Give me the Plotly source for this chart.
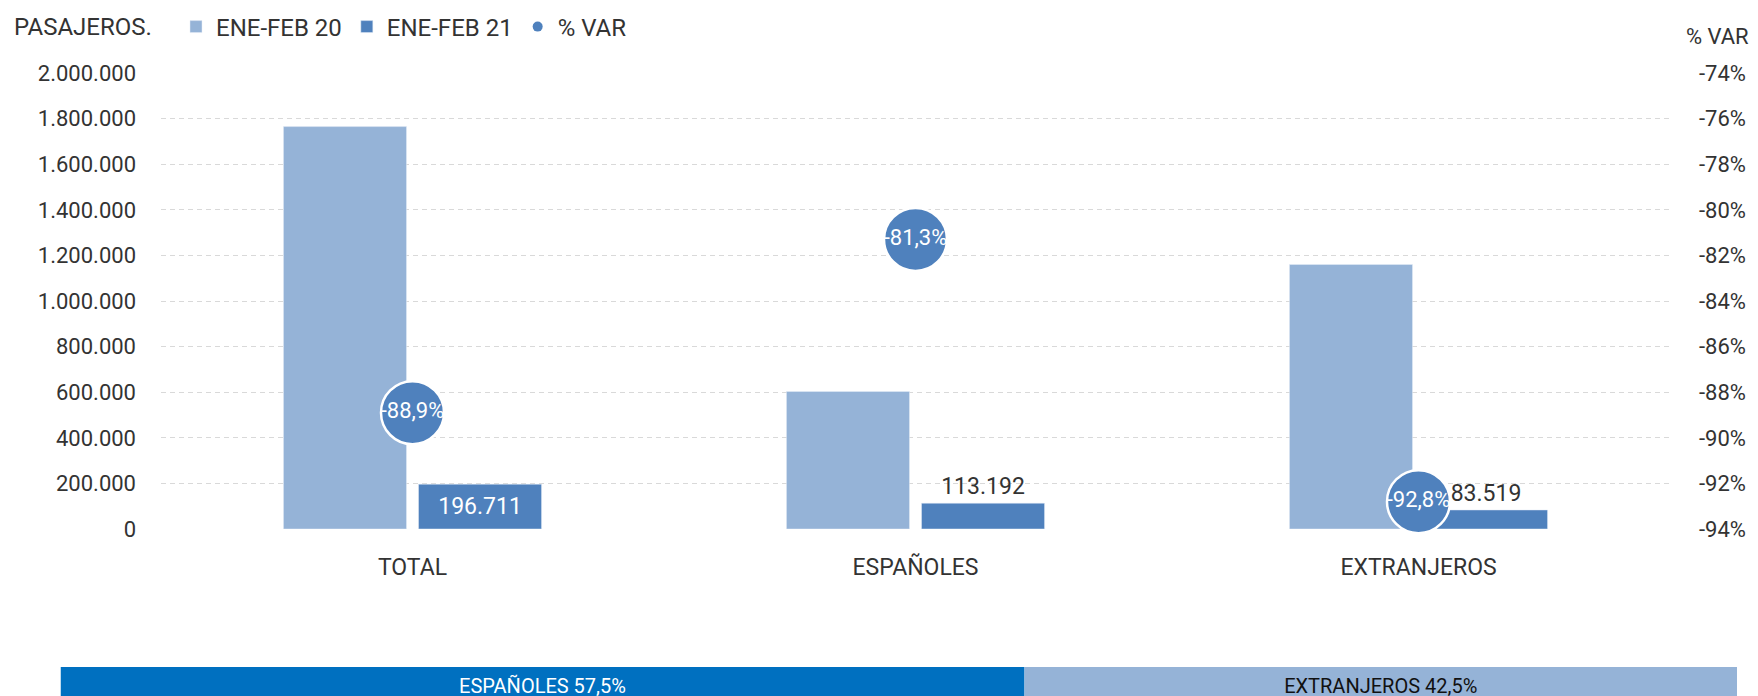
import plotly.graph_objects as go

categories = ["TOTAL", "ESPAÑOLES", "EXTRANJEROS"]
feb20 = [1765000, 603000, 1160000]
feb21 = [196711, 113192, 83519]
var_pct = [-88.9, -81.3, -92.8]
share_labels = ["ESPAÑOLES", "EXTRANJEROS"]
share_vals = [57.5, 42.5]
right_ticks = [-74, -76, -78, -80, -82, -84, -86, -88, -90, -92, -94]

C_LIGHT = "#95B3D7"
C_DARK = "#4F81BD"
C_BLUE = "#0070C0"
TXT = "#333333"
FONT = "Roboto"
W, H = 1758, 696
OFF = 8  # page body offset


def px(x):
    return (x - OFF) / W


def py(y):
    return 1 - (y - OFF) / H


def es_num(v):
    return f"{v:,.0f}".replace(",", ".")


fig = go.Figure()
fig.add_trace(go.Bar(x=categories, y=feb20, name="ENE-FEB 20", marker_color=C_LIGHT,
                     hoverinfo="skip"))
fig.add_trace(go.Bar(x=categories, y=feb21, name="ENE-FEB 21", marker_color=C_DARK,
                     text=[es_num(v) for v in feb21],
                     textposition=["inside", "outside", "outside"],
                     insidetextanchor="middle",
                     insidetextfont=dict(color="white", size=23, family=FONT),
                     outsidetextfont=dict(color=TXT, size=23, family=FONT),
                     textangle=0, cliponaxis=False, constraintext="none"))
fig.add_trace(go.Scatter(x=categories, y=var_pct, yaxis="y2", mode="markers+text",
                         name="% VAR", showlegend=False,
                         marker=dict(size=63, color=C_DARK, line=dict(color="white", width=2.5)),
                         text=[f"{v:.1f}%".replace(".", ",") for v in var_pct],
                         textposition="middle center",
                         textfont=dict(color="white", size=22, family=FONT),
                         cliponaxis=False))
# legend proxy for % VAR
fig.add_trace(go.Scatter(x=[None], y=[None], yaxis="y2", mode="markers", name="% VAR",
                         marker=dict(size=10, color=C_DARK)))

# bottom share strip
fig.add_trace(go.Bar(y=["s", "s"], x=share_vals,
                     base=[0, share_vals[0]], orientation="h",
                     xaxis="x3", yaxis="y3", width=1, showlegend=False,
                     marker=dict(color=[C_BLUE, C_LIGHT], line=dict(width=0)),
                     text=[f"{l} {v:.1f}%".replace(".", ",") for l, v in zip(share_labels, share_vals)],
                     textposition="inside", insidetextanchor="middle",
                     textfont=dict(color=["white", "#111111"], size=20, family=FONT),
                     textangle=0, constraintext="none"))

fig.update_layout(
    width=W, height=H,
    margin=dict(l=0, r=0, t=0, b=0, autoexpand=False),
    paper_bgcolor="white", plot_bgcolor="white",
    separators=",.",
    font=dict(family=FONT, size=22, color=TXT),
    barmode="group", bargap=0.463, bargroupgap=0.089,
    showlegend=True,
    legend=dict(orientation="h", x=px(176), xanchor="left", y=py(27), yanchor="middle",
                font=dict(size=24, color=TXT, family=FONT), bgcolor="rgba(0,0,0,0)",
                traceorder="normal"),
    xaxis=dict(domain=[px(161), px(1670)], showgrid=False, zeroline=False, showline=False,
               ticks="", ticklabelstandoff=22, automargin=False,
               tickfont=dict(size=23, color=TXT)),
    yaxis=dict(domain=[py(529), py(73)], range=[0, 2000000], dtick=200000, tickformat=",",
               showgrid=True, gridcolor="#D9D9D9", griddash="5px,4px", gridwidth=1,
               zeroline=False, showline=False, ticks="", ticklabelstandoff=24, automargin=False,
               tickfont=dict(size=22, color=TXT)),
    yaxis2=dict(overlaying="y", side="right", anchor="x", range=[-94, -74],
                tickvals=right_ticks, ticktext=[f"{t}%" for t in right_ticks],
                showgrid=False, zeroline=False, showline=False, ticks="", automargin=False,
                ticklabelstandoff=28, tickfont=dict(size=22, color=TXT)),
    xaxis3=dict(domain=[px(60.5), px(1737)], anchor="y3", range=[0, 100], visible=False, fixedrange=True),
    yaxis3=dict(domain=[0, py(667)], anchor="x3", range=[-0.5, 0.5], visible=False, fixedrange=True),
    annotations=[
        dict(text="PASAJEROS.", xref="paper", yref="paper", x=px(12), y=py(27),
             xanchor="left", yanchor="middle", showarrow=False,
             font=dict(size=24, color=TXT, family=FONT)),
        dict(text="% VAR", xref="paper", yref="paper", x=px(1751), y=py(37),
             xanchor="right", yanchor="middle", showarrow=False,
             font=dict(size=22, color=TXT, family=FONT)),
    ],
)

fig.write_html("out.html")
